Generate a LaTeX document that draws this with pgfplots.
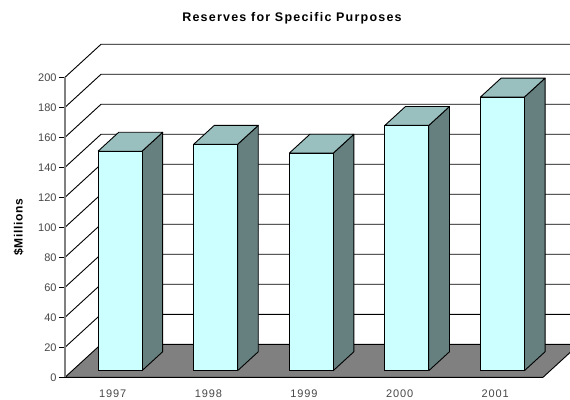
\documentclass[border=0pt]{standalone}
\usepackage{fontspec}
\usepackage{pgfplots}
\pgfplotsset{compat=1.18}
\setmainfont{Liberation Sans}
\newfontfamily\yticksfont{Liberation Sans}
\newfontfamily\xticksfont[LetterSpace=8]{Liberation Sans}
\newfontfamily\titlefont[LetterSpace=9.8]{Liberation Sans Bold}
\newfontfamily\labelfont[LetterSpace=6]{Liberation Sans Bold}
\definecolor{barfront}{HTML}{CCFFFF}
\definecolor{barside}{HTML}{668080}
\definecolor{bartop}{HTML}{99BFBF}
\definecolor{floorgrey}{HTML}{808080}

% one box: left and right edge in category units, then the value in $ millions
\newcommand{\boxbar}[3]{%
  \addplot3[draw=black,fill=barside] coordinates {(#2,0.2,0)(#2,0.775,0)(#2,0.775,#3)(#2,0.2,#3)(#2,0.2,0)};
  \addplot3[draw=black,fill=bartop] coordinates {(#1,0.2,#3)(#2,0.2,#3)(#2,0.775,#3)(#1,0.775,#3)(#1,0.2,#3)};
  \addplot3[draw=black,fill=barfront] coordinates {(#1,0.2,0)(#2,0.2,0)(#2,0.2,#3)(#1,0.2,#3)(#1,0.2,0)};
}
% one gridline: along the side wall, then along the back wall
\newcommand{\gridlevel}[1]{%
  \addplot3[draw=black] coordinates {(-0.5,0,#1)(-0.5,1,#1)(4.5,1,#1)};
}

\begin{document}
\begin{tikzpicture}[x=1pt,y=1pt,line join=round]
\useasboundingbox (-112.8,-21.7) rectangle (457.2,377.3);
\clip (-112.8,-21.7) rectangle (457.2,377.3);

\begin{axis}[
  at={(0,0)},anchor=origin,disabledatascaling,
  x={(95.6pt,0pt)},y={(36pt,33pt)},z={(0pt,1.5pt)},
  xmin=-0.5,xmax=4.5,ymin=0,ymax=1,zmin=0,zmax=200,
  hide axis,clip=false,
  every axis plot/.append style={line width=0.9pt,mark=none,forget plot},
]
\gridlevel{20}\gridlevel{40}\gridlevel{60}\gridlevel{80}\gridlevel{100}
\gridlevel{120}\gridlevel{140}\gridlevel{160}\gridlevel{180}\gridlevel{200}
\addplot3[draw=black,fill=floorgrey] coordinates {(-0.5,0,0)(4.5,0,0)(4.5,1,0)(-0.5,1,0)(-0.5,0,0)};
\boxbar{-0.23}{0.23}{146.3}
\boxbar{0.77}{1.23}{150.9}
\boxbar{1.77}{2.23}{145}
\boxbar{2.77}{3.23}{163.5}
\boxbar{3.77}{4.23}{182.4}
\end{axis}

\begin{axis}[
  at={(0,0)},anchor=origin,disabledatascaling,
  x=95.6pt,y=1.5pt,
  xmin=-0.5,xmax=4.5,ymin=0,ymax=200,
  axis x line*=bottom,axis y line*=left,
  axis line style={-},
  x axis line style={draw=none},
  y axis line style={draw=floorgrey,line width=1.3pt},
  xtick={0,1,2,3,4},
  xticklabels={1997,1998,1999,2000,2001},
  ytick={0,20,40,60,80,100,120,140,160,180,200},
  /pgf/number format/assume math mode=true,
  xticklabel style={font=\xticksfont\fontsize{11}{13}\selectfont,text=black!72,yshift=-3pt},
  yticklabel style={font=\yticksfont\fontsize{11}{13}\selectfont,text=black!72,xshift=1pt},
  x tick style={draw=none},
  y tick style={draw=black,line width=0.9pt},
  tick align=outside,
  major tick length=6pt,
  clip=false,
]
\end{axis}

\node[font=\titlefont\fontsize{12.5}{15}\selectfont] at (179.2,359) {Reserves for Specific Purposes};
\node[font=\labelfont\fontsize{12}{14}\selectfont,rotate=90] at (-94.3,150) {\$Millions};
\end{tikzpicture}
\end{document}
